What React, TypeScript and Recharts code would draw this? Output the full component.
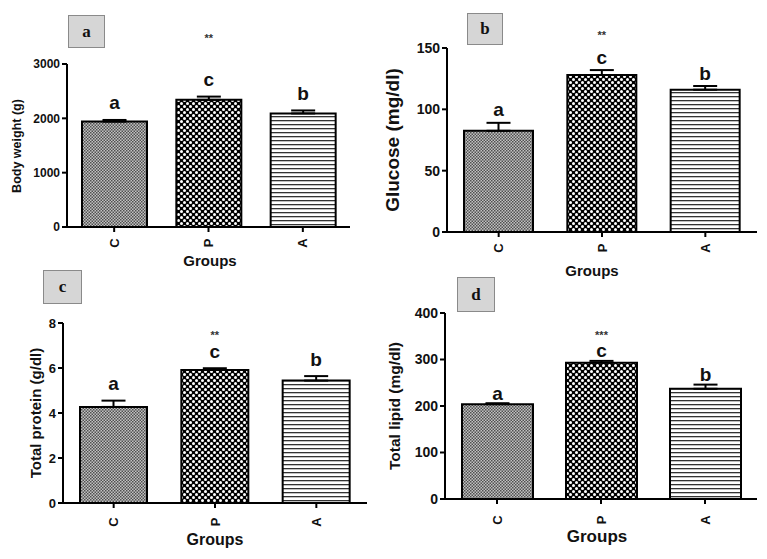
import React from 'react';
import { BarChart, Bar, XAxis, YAxis, Cell, ErrorBar, LabelList } from 'recharts';

const groups = ['C', 'P', 'A'];
const sigLetters = ['a', 'c', 'b'];

const bodyWeight = [1940, 2340, 2090];
const bodyWeightErr = [30, 60, 55];
const bodyWeightStars = ['', '**', ''];
const bodyWeightTicks = [0, 1000, 2000, 3000];

const glucose = [82.5, 128, 116];
const glucoseErr = [6.5, 4, 3];
const glucoseStars = ['', '**', ''];
const glucoseTicks = [0, 50, 100, 150];

const protein = [4.27, 5.91, 5.44];
const proteinErr = [0.28, 0.08, 0.2];
const proteinStars = ['', '**', ''];
const proteinTicks = [0, 2, 4, 6, 8];

const lipid = [204, 293, 237];
const lipidErr = [2, 4, 9];
const lipidStars = ['', '***', ''];
const lipidTicks = [0, 100, 200, 300, 400];

const FONT = '"Liberation Sans", Arial, sans-serif';

interface PanelProps {
  id: string;
  tag: string;
  region: [number, number, number, number]; // left, top, width, height
  plot: [number, number, number, number]; // x0, x1, y0, y1 (page coords)
  values: number[];
  errs: number[];
  stars: string[];
  ticks: number[];
  yLabel: string;
  yLabelSize: number;
  yLabelX: number;
  yTickSize: number;
  xTickGap: number;
  barSize: number;
  letterOffset: number;
  starOffset: number;
  groupsPos: [number, number, number];
  box: [number, number, number, number];
}

const Panel: React.FC<PanelProps> = (p) => {
  const [rl, rt, rw, rh] = p.region;
  const [x0, x1, y0, y1] = p.plot;
  const data = groups.map((g, i) => ({ group: g, value: p.values[i], err: [0, p.errs[i]] }));
  const fills = [`url(#${p.id}-C)`, `url(#${p.id}-P)`, `url(#${p.id}-A)`];

  // letters above each bar, stars for the P group
  const renderMarks = (props: any) => {
    const { x, y, width, height, value, index } = props;
    const errPx = (p.errs[index] / value) * height;
    const top = y - errPx;
    const cx = x + width / 2;
    return (
      <g>
        <text x={cx} y={top - p.letterOffset} textAnchor="middle" dominantBaseline="central"
          fontFamily={FONT} fontWeight="bold" fontSize={19} fill="#111">
          {sigLetters[index]}
        </text>
        {p.stars[index] && (
          <text x={cx} y={top - p.starOffset} textAnchor="middle" dominantBaseline="central"
            fontFamily={FONT} fontWeight="bold" fontSize={11} fill="#333">
            {p.stars[index]}
          </text>
        )}
      </g>
    );
  };

  const renderXTick = (props: any) => {
    const { x, y, payload } = props;
    const ty = y + p.xTickGap;
    return (
      <text x={x} y={ty} transform={`rotate(-90, ${x}, ${ty})`} textAnchor="middle" dominantBaseline="central"
        fontFamily={FONT} fontWeight="bold" fontSize={13} fill="#111">
        {payload.value}
      </text>
    );
  };

  return (
    <div style={{ position: 'absolute', left: rl, top: rt, width: rw, height: rh }}>
      <BarChart width={rw} height={rh} data={data}
        margin={{ top: y0 - rt, right: rl + rw - x1, bottom: 0, left: 0 }}>
        <defs>
          <pattern id={`${p.id}-C`} width="3" height="3" patternUnits="userSpaceOnUse">
            <rect width="3" height="3" fill="#c2c2c2" />
            <rect width="1.5" height="1.5" fill="#505050" />
            <rect x="1.5" y="1.5" width="1.5" height="1.5" fill="#505050" />
          </pattern>
          <pattern id={`${p.id}-P`} width="6" height="6" patternUnits="userSpaceOnUse">
            <rect width="6" height="6" fill="#000" />
            <circle cx="1.5" cy="1.5" r="1.5" fill="#fff" />
            <circle cx="4.5" cy="4.5" r="1.5" fill="#fff" />
          </pattern>
          <pattern id={`${p.id}-A`} width="4" height="4" patternUnits="userSpaceOnUse">
            <rect width="4" height="4" fill="#fff" />
            <rect width="4" height="1.3" fill="#333" />
          </pattern>
        </defs>
        <XAxis dataKey="group" height={rt + rh - y1} axisLine={{ stroke: '#000', strokeWidth: 2 }}
          tickLine={{ stroke: '#000', strokeWidth: 2 }} tickSize={5} tickMargin={0} tick={renderXTick} interval={0} />
        <YAxis width={x0 - rl} domain={[p.ticks[0], p.ticks[p.ticks.length - 1]]} ticks={p.ticks}
          allowDataOverflow axisLine={{ stroke: '#000', strokeWidth: 2 }}
          tickLine={{ stroke: '#000', strokeWidth: 2 }} tickSize={5}
          tick={{ fontFamily: FONT, fontWeight: 'bold', fontSize: p.yTickSize, fill: '#111' }} />
        <Bar dataKey="value" barSize={p.barSize} stroke="#000" strokeWidth={2} isAnimationActive={false}>
          {data.map((d, i) => (
            <Cell key={d.group} fill={fills[i]} stroke="#000" strokeWidth={2} />
          ))}
          <ErrorBar dataKey="err" direction="y" width={12} stroke="#000" strokeWidth={2} isAnimationActive={false} />
          <LabelList dataKey="value" content={renderMarks} />
        </Bar>
      </BarChart>
    </div>
  );
};

const panels: PanelProps[] = [
  {
    id: 'pa', tag: 'a', region: [0, 0, 380, 280], plot: [67, 350, 64, 227],
    values: bodyWeight, errs: bodyWeightErr, stars: bodyWeightStars, ticks: bodyWeightTicks,
    yLabel: 'Body weight (g)', yLabelSize: 12.5, yLabelX: 17, yTickSize: 12, xTickGap: 11, barSize: 65,
    letterOffset: 17, starOffset: 59, groupsPos: [210, 260, 15], box: [68, 15, 37, 33],
  },
  {
    id: 'pb', tag: 'b', region: [380, 0, 387, 280], plot: [447, 757, 48, 232],
    values: glucose, errs: glucoseErr, stars: glucoseStars, ticks: glucoseTicks,
    yLabel: 'Glucose (mg/dl)', yLabelSize: 19, yLabelX: 393, yTickSize: 14, xTickGap: 11, barSize: 69,
    letterOffset: 13, starOffset: 35, groupsPos: [592, 270, 15], box: [467, 13, 36, 32],
  },
  {
    id: 'pc', tag: 'c', region: [0, 280, 380, 279], plot: [63, 367, 323, 503],
    values: protein, errs: proteinErr, stars: proteinStars, ticks: proteinTicks,
    yLabel: 'Total protein (g/dl)', yLabelSize: 15, yLabelX: 35, yTickSize: 13, xTickGap: 14, barSize: 67,
    letterOffset: 17, starOffset: 33, groupsPos: [215, 540, 16], box: [43, 270, 39, 34],
  },
  {
    id: 'pd', tag: 'd', region: [380, 280, 387, 279], plot: [445, 757, 313, 499],
    values: lipid, errs: lipidErr, stars: lipidStars, ticks: lipidTicks,
    yLabel: 'Total lipid (mg/dl)', yLabelSize: 15.5, yLabelX: 395, yTickSize: 14, xTickGap: 16, barSize: 71,
    letterOffset: 10, starOffset: 26, groupsPos: [597, 537, 17], box: [457, 277, 38, 35],
  },
];

const App: React.FC = () => {
  return (
    <div style={{ position: 'absolute', left: 0, top: 0, width: 767, height: 559, background: '#fff', overflow: 'hidden' }}>
      {panels.map((p) => (
        <Panel key={p.id} {...p} />
      ))}
      {panels.map((p) => (
        <React.Fragment key={`t-${p.id}`}>
          <div style={{
            position: 'absolute', left: p.box[0], top: p.box[1], width: p.box[2], height: p.box[3],
            boxSizing: 'border-box', background: '#d6d6d6', border: '1px solid #8a8a8a',
            display: 'flex', alignItems: 'center', justifyContent: 'center',
            fontFamily: '"Liberation Serif", "Times New Roman", serif', fontWeight: 'bold', fontSize: 17, color: '#111',
          }}>{p.tag}</div>
          <div style={{
            position: 'absolute', left: p.yLabelX, top: (p.plot[2] + p.plot[3]) / 2,
            transform: 'translate(-50%, -50%) rotate(-90deg)', whiteSpace: 'nowrap',
            fontFamily: FONT, fontWeight: 'bold', fontSize: p.yLabelSize, color: '#111',
          }}>{p.yLabel}</div>
          <div style={{
            position: 'absolute', left: p.groupsPos[0], top: p.groupsPos[1],
            transform: 'translate(-50%, -50%)', whiteSpace: 'nowrap',
            fontFamily: FONT, fontWeight: 'bold', fontSize: p.groupsPos[2], color: '#111',
          }}>Groups</div>
        </React.Fragment>
      ))}
    </div>
  );
};

export default App;
